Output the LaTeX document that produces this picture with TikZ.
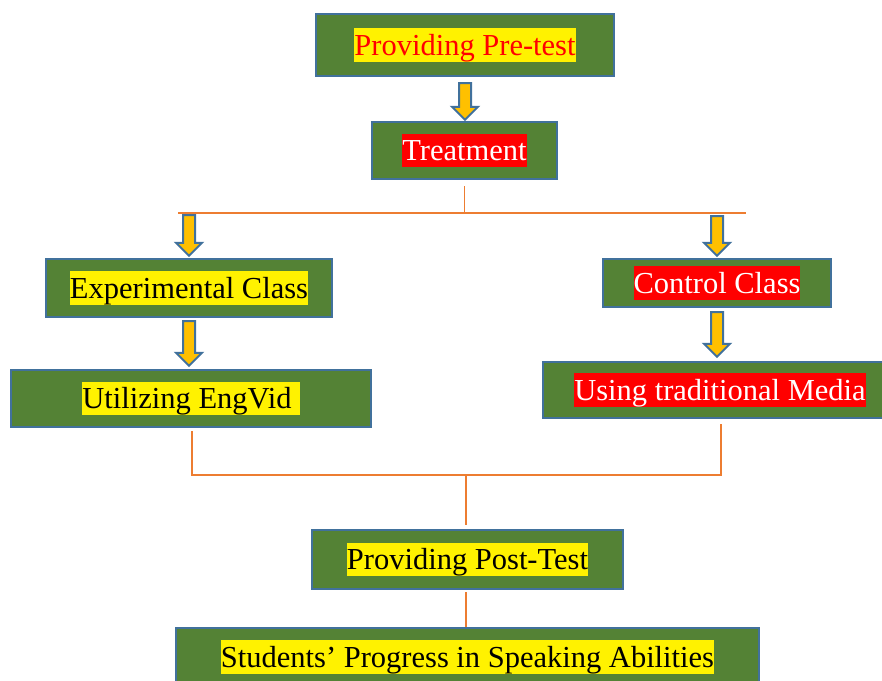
\documentclass[tikz,border=0pt]{standalone}
\usepackage{fontspec}
\setmainfont{Liberation Serif}
\usetikzlibrary{calc}
\definecolor{boxgreen}{HTML}{548235}
\definecolor{boxblue}{HTML}{41719C}
\definecolor{linkorange}{HTML}{ED7D31}
\definecolor{arrgold}{HTML}{FFC000}
\tikzstyle{every node}=[font=\fontsize{30.5}{36}\selectfont]
\tikzstyle{stage}=[rectangle,draw=boxblue,fill=boxgreen,line width=2.4pt,inner sep=0pt]
\tikzstyle{link}=[draw=linkorange,line width=1.3pt]
\tikzstyle{barrow}=[draw=boxblue,fill=arrgold,line width=2pt,line join=miter]
\newcommand{\hl}[3]{\setlength{\fboxsep}{0pt}\colorbox{#1}{\rule[-0.216em]{0pt}{1.107em}\textcolor{#2}{#3}}}
\newcommand{\blockarr}[2]{%
  \draw[barrow] let \p1=#1, \p2=#2 in
    (\x1-6pt,\y1) -- (\x1+6pt,\y1) -- (\x1+6pt,\y2+13pt) -- (\x1+13pt,\y2+13pt)
    -- (\x1,\y2) -- (\x1-13pt,\y2+13pt) -- (\x1-6pt,\y2+13pt) -- cycle;}

\begin{document}
\begin{tikzpicture}[x=1pt,y=-1pt]
  \clip (0,0) rectangle (882,680);
  \node[stage,minimum width=298,minimum height=62] (pre) at (465,45) {\hl{yellow}{red}{Providing Pre-test}};
  \node[stage,minimum width=185,minimum height=57] (treat) at (464.5,150.5) {\hl{red}{white}{Treatment}};
  \node[stage,minimum width=286,minimum height=58] (exp) at (189,288) {\hl{yellow}{black}{Experimental Class}};
  \node[stage,minimum width=360,minimum height=57] (engvid) at (191,398.5) {\hl{yellow}{black}{Utilizing EngVid\hspace*{8pt}}};
  \node[stage,minimum width=228,minimum height=48] (ctrl) at (717,283) {\hl{red}{white}{Control Class}};
  \node[stage,minimum width=354,minimum height=56] (trad) at (720,390) {\hl{red}{white}{Using traditional Media}};
  \node[stage,minimum width=311,minimum height=59] (post) at (467.5,559.5) {\hl{yellow}{black}{Providing Post-Test}};
  \node[stage,minimum width=583,minimum height=58] (prog) at (467.5,657) {\hl{yellow}{black}{Students’ Progress in Speaking Abilities}};

  \coordinate (busL) at (178,213);
  \coordinate (busR) at (746,213);
  \coordinate (joinL) at (192,475);
  \coordinate (joinR) at (721,475);
  \coordinate (joinM) at (466,475);
  \draw[link] ($(treat.south)+(0,6)$) -- (treat.south |- busL);
  \draw[link] (busL) -- (busR);
  \draw[link] ($(engvid.south)+(1,3)$) -- (joinL) -- (joinR) -- ($(trad.south)+(1,5)$);
  \draw[link] (joinM) -- ($(joinM |- post.north)+(0,-4)$);
  \draw[link] ($(joinM |- post.south)+(0,2)$) -- (joinM |- prog.north);

  \blockarr{($(pre.south)+(0,6)$)}{($(treat.north)+(0,-1)$)}
  \blockarr{($(busL -| exp.north)+(0,2)$)}{($(exp.north)+(0,-2)$)}
  \blockarr{($(busL -| ctrl.north)+(0,3)$)}{($(ctrl.north)+(0,-2)$)}
  \blockarr{($(exp.south)+(0,3)$)}{($(engvid.north)+(0,-3)$)}
  \blockarr{($(ctrl.south)+(0,4)$)}{($(trad.north)+(0,-4)$)}
\end{tikzpicture}
\end{document}
